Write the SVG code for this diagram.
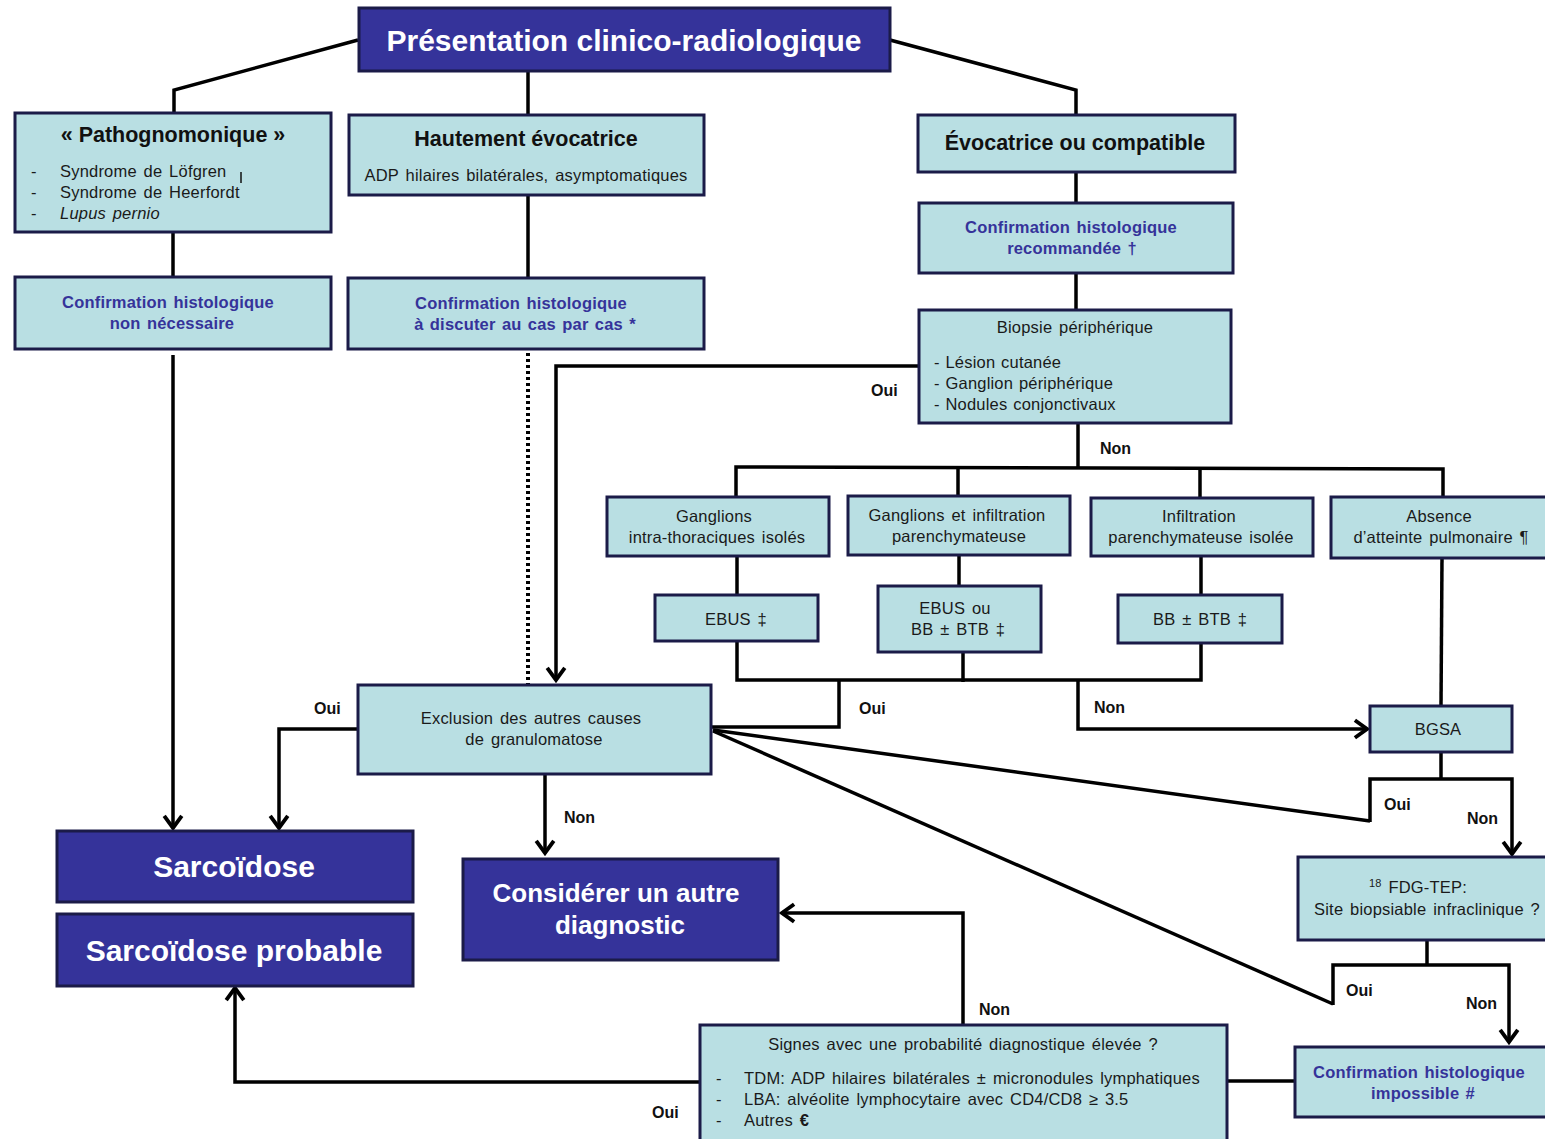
<svg xmlns="http://www.w3.org/2000/svg" width="1545" height="1139" viewBox="0 0 1545 1139">
  <defs>
    <marker id="arrow" markerUnits="userSpaceOnUse" markerWidth="20" markerHeight="22" viewBox="-3 -10 16 20" refX="11" refY="0" orient="auto">
      <path d="M0,-8 L11,0 L0,8" fill="none" stroke="#000" stroke-width="3.5" stroke-linejoin="miter"/>
    </marker>
  </defs>
  <style>
    .light { fill: #b9dfe3; stroke: #1b1b48; stroke-width: 3; }
    .dark { fill: #35339a; stroke: #1b1b48; stroke-width: 3; }
    text { font-family: "Liberation Sans", Arial, sans-serif; }
    .t { font-size: 16.5px; fill: #1a1a1a; letter-spacing: 0.2px; word-spacing: 2px; }
    .li { word-spacing: 1px; }
    .hd { font-size: 21.5px; font-weight: bold; fill: #111; }
    .bl { font-size: 16.5px; font-weight: bold; fill: #35339a; letter-spacing: 0.2px; word-spacing: 1.5px; }
    .wh { font-weight: bold; fill: #fff; }
    .lbl { font-size: 16px; font-weight: bold; fill: #111; }
    .c { text-anchor: middle; }
    .ln { fill: none; stroke: #000; stroke-width: 3.5; }
    .dot { fill: none; stroke: #000; stroke-width: 4; stroke-dasharray: 3 3; }
  </style>

  <!-- connectors -->
  <g id="connectors">
    <polyline class="ln" points="358,40 174,90 174,112"/>
    <line class="ln" x1="528" y1="71" x2="528" y2="114"/>
    <polyline class="ln" points="890,40 1076,90 1076,114"/>
    <line class="ln" x1="173" y1="232" x2="173" y2="276"/>
    <line class="ln" x1="528" y1="195" x2="528" y2="277"/>
    <line class="ln" x1="1076" y1="172" x2="1076" y2="202"/>
    <line class="ln" x1="1076" y1="273" x2="1076" y2="309"/>
    <line class="ln" x1="173" y1="355" x2="173" y2="828" marker-end="url(#arrow)"/>
    <line class="dot" x1="528" y1="353" x2="528" y2="684"/>
    <polyline class="ln" points="918,366 556,366 556,680" marker-end="url(#arrow)"/>
    <line class="ln" x1="1078" y1="423" x2="1078" y2="468"/>
    <polyline class="ln" points="736,496 736,467 1443,469 1443,496"/>
    <line class="ln" x1="958" y1="468" x2="958" y2="495"/>
    <line class="ln" x1="1200" y1="468" x2="1200" y2="497"/>
    <line class="ln" x1="737" y1="556" x2="737" y2="594"/>
    <line class="ln" x1="959" y1="555" x2="959" y2="585"/>
    <line class="ln" x1="1201" y1="556" x2="1201" y2="594"/>
    <polyline class="ln" points="737,641 737,680 1201,680 1201,643"/>
    <line class="ln" x1="963" y1="652" x2="963" y2="682"/>
    <polyline class="ln" points="839,680 839,727 711,727"/>
    <polyline class="ln" points="1078,680 1078,729 1367,729" marker-end="url(#arrow)"/>
    <line class="ln" x1="1442" y1="558" x2="1441" y2="705"/>
    <line class="ln" x1="1441" y1="752" x2="1441" y2="779"/>
    <polyline class="ln" points="1370,822 1370,779 1512,779 1512,854" marker-end="url(#arrow)"/>
    <line class="ln" x1="713" y1="730" x2="1370" y2="821"/>
    <line class="ln" x1="713" y1="731" x2="1333" y2="1004"/>
    <line class="ln" x1="1427" y1="940" x2="1427" y2="965"/>
    <polyline class="ln" points="1333,1005 1333,965 1509,965 1509,1042" marker-end="url(#arrow)"/>
    <polyline class="ln" points="357,729 279,729 279,828" marker-end="url(#arrow)"/>
    <line class="ln" x1="545" y1="774" x2="545" y2="853" marker-end="url(#arrow)"/>
    <polyline class="ln" points="963,1024 963,913 782,913" marker-end="url(#arrow)"/>
    <polyline class="ln" points="699,1082 235,1082 235,988" marker-end="url(#arrow)"/>
    <line class="ln" x1="1227" y1="1081" x2="1294" y2="1081"/>
    <!-- branch labels -->
    <text class="lbl" x="871" y="396">Oui</text>
    <text class="lbl" x="1100" y="454">Non</text>
    <text class="lbl" x="859" y="714">Oui</text>
    <text class="lbl" x="1094" y="713">Non</text>
    <text class="lbl" x="314" y="714">Oui</text>
    <text class="lbl" x="564" y="823">Non</text>
    <text class="lbl" x="1384" y="810">Oui</text>
    <text class="lbl" x="1467" y="824">Non</text>
    <text class="lbl" x="1346" y="996">Oui</text>
    <text class="lbl" x="1466" y="1009">Non</text>
    <text class="lbl" x="979" y="1015">Non</text>
    <text class="lbl" x="652" y="1118">Oui</text>
  </g>

  <g id="presentation">
    <rect class="dark" x="359" y="8" width="531" height="63"/>
    <text class="wh c" x="624" y="51" font-size="30">Présentation clinico-radiologique</text>
  </g>

  <g id="pathognomonique">
    <rect class="light" x="15" y="113" width="316" height="119"/>
    <text class="hd c" x="173" y="142">« Pathognomonique »</text>
    <text class="t" x="31" y="177">-</text>
    <text class="t" x="60" y="177">Syndrome de Löfgren</text>
    <line x1="241" y1="172" x2="241" y2="183" stroke="#111" stroke-width="1.5"/>
    <text class="t" x="31" y="198">-</text>
    <text class="t" x="60" y="198">Syndrome de Heerfordt</text>
    <text class="t" x="31" y="219">-</text>
    <text class="t" x="60" y="219" font-style="italic">Lupus pernio</text>
  </g>

  <g id="hautement">
    <rect class="light" x="349" y="115" width="355" height="80"/>
    <text class="hd c" x="526" y="146">Hautement évocatrice</text>
    <text class="t c" x="526" y="181">ADP hilaires bilatérales, asymptomatiques</text>
  </g>

  <g id="evocatrice">
    <rect class="light" x="918" y="115" width="317" height="57"/>
    <text class="hd c" x="1075" y="150">Évocatrice ou compatible</text>
  </g>

  <g id="conf-non">
    <rect class="light" x="15" y="277" width="316" height="72"/>
    <text class="bl c" x="168" y="308">Confirmation histologique</text>
    <text class="bl c" x="172" y="329">non nécessaire</text>
  </g>

  <g id="conf-discuter">
    <rect class="light" x="348" y="278" width="356" height="71"/>
    <text class="bl c" x="521" y="309">Confirmation histologique</text>
    <text class="bl c" x="525" y="330">à discuter au cas par cas *</text>
  </g>

  <g id="conf-recommandee">
    <rect class="light" x="919" y="203" width="314" height="70"/>
    <text class="bl c" x="1071" y="233">Confirmation histologique</text>
    <text class="bl c" x="1072" y="254">recommandée †</text>
  </g>

  <g id="biopsie">
    <rect class="light" x="919" y="310" width="312" height="113"/>
    <text class="t c" x="1075" y="333">Biopsie périphérique</text>
    <text class="t li" x="934" y="368">- Lésion  cutanée</text>
    <text class="t li" x="934" y="389">- Ganglion  périphérique</text>
    <text class="t li" x="934" y="410">- Nodules  conjonctivaux</text>
  </g>

  <g id="ganglions">
    <rect class="light" x="607" y="497" width="222" height="59"/>
    <text class="t c" x="714" y="522">Ganglions</text>
    <text class="t c" x="717" y="543">intra-thoraciques isolés</text>
  </g>

  <g id="ganglions-infiltration">
    <rect class="light" x="848" y="496" width="222" height="59"/>
    <text class="t c" x="957" y="521">Ganglions et infiltration</text>
    <text class="t c" x="959" y="542">parenchymateuse</text>
  </g>

  <g id="infiltration">
    <rect class="light" x="1091" y="498" width="222" height="58"/>
    <text class="t c" x="1199" y="522">Infiltration</text>
    <text class="t c" x="1201" y="543">parenchymateuse isolée</text>
  </g>

  <g id="absence">
    <rect class="light" x="1331" y="497" width="218" height="61"/>
    <text class="t c" x="1439" y="522">Absence</text>
    <text class="t c" x="1441" y="543">d’atteinte pulmonaire ¶</text>
  </g>

  <g id="ebus">
    <rect class="light" x="655" y="595" width="163" height="46"/>
    <text class="t c" x="736" y="625">EBUS ‡</text>
  </g>

  <g id="ebus-bb">
    <rect class="light" x="878" y="586" width="163" height="66"/>
    <text class="t c" x="955" y="614">EBUS ou</text>
    <text class="t c" x="958" y="635">BB ± BTB ‡</text>
  </g>

  <g id="bb-btb">
    <rect class="light" x="1118" y="595" width="164" height="48"/>
    <text class="t c" x="1200" y="625">BB ± BTB ‡</text>
  </g>

  <g id="exclusion">
    <rect class="light" x="358" y="685" width="353" height="89"/>
    <text class="t c" x="531" y="724">Exclusion des autres causes</text>
    <text class="t c" x="534" y="745">de granulomatose</text>
  </g>

  <g id="bgsa">
    <rect class="light" x="1370" y="706" width="142" height="46"/>
    <text class="t c" x="1438" y="735">BGSA</text>
  </g>

  <g id="sarcoidose">
    <rect class="dark" x="57" y="831" width="356" height="71"/>
    <text class="wh c" x="234" y="877" font-size="30">Sarcoïdose</text>
  </g>

  <g id="sarcoidose-probable">
    <rect class="dark" x="57" y="914" width="356" height="72"/>
    <text class="wh c" x="234" y="961" font-size="30">Sarcoïdose probable</text>
  </g>

  <g id="autre-diagnostic">
    <rect class="dark" x="463" y="859" width="315" height="101"/>
    <text class="wh c" x="616" y="902" font-size="26">Considérer un autre</text>
    <text class="wh c" x="620" y="934" font-size="26">diagnostic</text>
  </g>

  <g id="fdg-tep">
    <rect class="light" x="1298" y="857" width="252" height="83"/>
    <text class="t c" x="1418" y="893"><tspan font-size="11" dy="-6">18</tspan><tspan dy="6"> FDG-TEP:</tspan></text>
    <text class="t c" x="1427" y="915">Site biopsiable infraclinique ?</text>
  </g>

  <g id="conf-impossible">
    <rect class="light" x="1295" y="1047" width="255" height="70"/>
    <text class="bl c" x="1419" y="1078">Confirmation histologique</text>
    <text class="bl c" x="1423" y="1099">impossible   #</text>
  </g>

  <g id="signes">
    <rect class="light" x="700" y="1025" width="527" height="118"/>
    <text class="t c" x="963" y="1050">Signes avec une probabilité diagnostique élevée ?</text>
    <text class="t" x="716" y="1084">-</text>
    <text class="t" x="744" y="1084">TDM: ADP hilaires bilatérales ± micronodules lymphatiques</text>
    <text class="t" x="716" y="1105">-</text>
    <text class="t" x="744" y="1105">LBA: alvéolite lymphocytaire avec CD4/CD8 ≥ 3.5</text>
    <text class="t" x="716" y="1126">-</text>
    <text class="t" x="744" y="1126">Autres <tspan font-weight="bold">€</tspan></text>
  </g>
</svg>
